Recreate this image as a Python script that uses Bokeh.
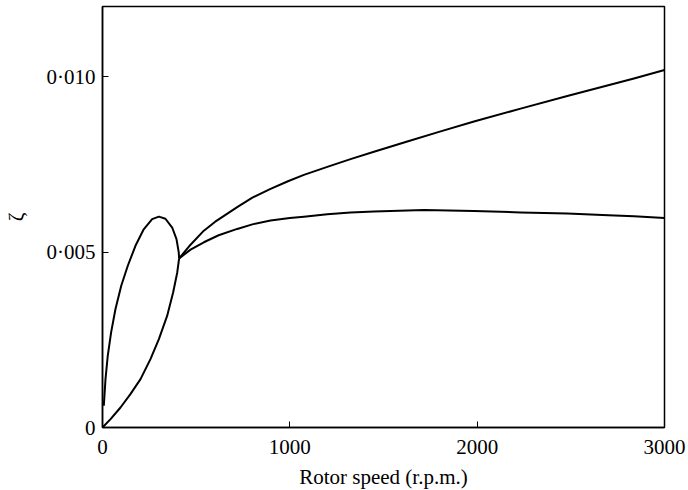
from bokeh.plotting import figure
from bokeh.models import Range1d, FixedTicker
from bokeh.embed import file_html
from bokeh.resources import INLINE

# Loop: lower branch from origin to the junction
loop_low_rpm = [0, 43, 96, 149, 203, 256, 301, 345, 377, 399, 409]
loop_low_z = [0.0, 0.00024, 0.00057, 0.00095, 0.00138, 0.00195, 0.00252, 0.00318, 0.00385, 0.00442, 0.00482]
# Loop: upper branch from the junction back towards zero speed
loop_up_rpm = [409, 407, 395, 372, 336, 301, 265, 220, 176, 135, 100, 69, 46, 28, 16, 7]
loop_up_z = [0.00482, 0.00499, 0.00537, 0.00570, 0.00595, 0.00601, 0.00594, 0.00565, 0.00518, 0.00461, 0.00404, 0.00337, 0.00271, 0.00204, 0.00138, 0.00062]
# Branches after the junction
upper_rpm = [409, 470, 541, 600, 719, 800, 897, 990, 1075, 1200, 1324, 1449, 1627, 1805, 1983, 2232, 2481, 2837, 3000]
upper_z = [0.00482, 0.00521, 0.00561, 0.00586, 0.00628, 0.00655, 0.00680, 0.00702, 0.00720, 0.00743, 0.00765, 0.00786, 0.00815, 0.00844, 0.00872, 0.00909, 0.00945, 0.00995, 0.01019]
lower_rpm = [409, 470, 541, 620, 719, 800, 897, 1000, 1075, 1200, 1324, 1449, 1716, 1983, 2232, 2481, 2700, 2837, 3000]
lower_z = [0.00482, 0.00507, 0.00528, 0.00548, 0.00566, 0.00579, 0.00590, 0.00597, 0.00601, 0.00608, 0.00613, 0.00616, 0.00620, 0.00617, 0.00613, 0.00610, 0.00605, 0.00602, 0.00597]

x_ticks = [0, 1000, 2000, 3000]
x_labels = ["0", "1000", "2000", "3000"]
y_ticks = [0, 0.005, 0.010]
y_labels = ["0", "0\u00b7005", "0\u00b7010"]

FONT = "'Liberation Serif', 'Times New Roman', serif"

p = figure(width=688, height=490, output_backend="svg", toolbar_location=None,
           x_range=Range1d(0, 3000), y_range=Range1d(0, 0.012),
           frame_width=562, frame_height=421,
           min_border_left=102, min_border_right=24, min_border_top=6, min_border_bottom=63)

p.grid.visible = False
p.outline_line_color = "black"
p.outline_line_width = 1.5
p.background_fill_color = "white"
p.border_fill_color = "white"

for xs, ys in [(loop_low_rpm, loop_low_z), (loop_up_rpm, loop_up_z),
               (upper_rpm, upper_z), (lower_rpm, lower_z)]:
    p.line(xs, ys, line_color="black", line_width=2, line_join="round")

xa = p.xaxis[0]
xa.ticker = FixedTicker(ticks=x_ticks)
xa.major_label_overrides = {t: l for t, l in zip(x_ticks, x_labels)}
xa.axis_label = "Rotor speed (r.p.m.)"

ya = p.yaxis[0]
ya.ticker = FixedTicker(ticks=y_ticks)
ya.major_label_overrides = {t: l for t, l in zip(y_ticks, y_labels)}
ya.axis_label = "\u03b6"

for ax in (xa, ya):
    ax.axis_line_color = "black"
    ax.axis_line_width = 1.5
    ax.major_tick_in = 6
    ax.major_tick_out = 0
    ax.minor_tick_in = 0
    ax.minor_tick_out = 0
    ax.major_tick_line_color = "black"
    ax.major_tick_line_width = 1
    ax.major_label_text_font = FONT
    ax.major_label_text_font_size = "21px"
    ax.major_label_text_color = "black"
    ax.axis_label_text_font = FONT
    ax.axis_label_text_font_size = "21px"
    ax.axis_label_text_font_style = "normal"
    ax.axis_label_text_color = "black"

xa.major_label_standoff = 12
ya.major_label_standoff = 7
xa.axis_label_standoff = 8
ya.axis_label_standoff = 16

open("out.html", "w").write(file_html(p, INLINE))
